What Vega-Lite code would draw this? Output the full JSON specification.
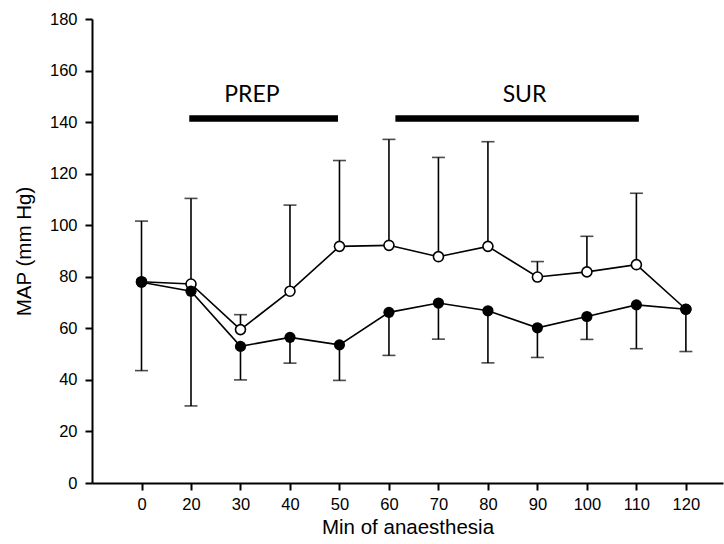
{
  "$schema": "https://vega.github.io/schema/vega-lite/v6.json",
  "width": 631,
  "height": 464,
  "autosize": {"type": "none"},
  "padding": {"left": 92, "top": 19, "right": 1, "bottom": 61},
  "background": "white",
  "config": {
    "view": {"stroke": null},
    "axis": {"grid": false, "domainColor": "black", "tickColor": "black", "labelColor": "black", "titleColor": "black", "labelFont": "Liberation Sans", "titleFont": "Liberation Sans", "titleFontWeight": "normal", "domainWidth": 2, "tickWidth": 2, "tickSize": 7, "labelFontSize": 16.5, "titleFontSize": 20.5}
  },
  "datasets": {
    "series": [
      {"min": 0, "group": "open", "map": 78.1, "bar": 101.6},
      {"min": 20, "group": "open", "map": 77.2, "bar": 110.4},
      {"min": 30, "group": "open", "map": 59.5, "bar": 65.3},
      {"min": 40, "group": "open", "map": 74.4, "bar": 107.8},
      {"min": 50, "group": "open", "map": 91.8, "bar": 125.1},
      {"min": 60, "group": "open", "map": 92.2, "bar": 133.3},
      {"min": 70, "group": "open", "map": 87.8, "bar": 126.3},
      {"min": 80, "group": "open", "map": 91.8, "bar": 132.4},
      {"min": 90, "group": "open", "map": 79.9, "bar": 85.9},
      {"min": 100, "group": "open", "map": 81.9, "bar": 95.7},
      {"min": 110, "group": "open", "map": 84.7, "bar": 112.4},
      {"min": 120, "group": "open", "map": 67.4, "bar": null},
      {"min": 0, "group": "filled", "map": 77.9, "bar": 43.6},
      {"min": 20, "group": "filled", "map": 74.4, "bar": 29.9},
      {"min": 30, "group": "filled", "map": 53.0, "bar": 40.0},
      {"min": 40, "group": "filled", "map": 56.5, "bar": 46.5},
      {"min": 50, "group": "filled", "map": 53.6, "bar": 39.8},
      {"min": 60, "group": "filled", "map": 66.2, "bar": 49.5},
      {"min": 70, "group": "filled", "map": 69.8, "bar": 55.8},
      {"min": 80, "group": "filled", "map": 66.8, "bar": 46.6},
      {"min": 90, "group": "filled", "map": 60.2, "bar": 48.7},
      {"min": 100, "group": "filled", "map": 64.6, "bar": 55.7},
      {"min": 110, "group": "filled", "map": 69.1, "bar": 52.1},
      {"min": 120, "group": "filled", "map": 67.4, "bar": 51.0}
    ],
    "phases": [
      {"label": "PREP", "start": 19.3, "end": 49.7, "mid": 32.3, "level": 141.4, "texty": 147.9},
      {"label": "SUR", "start": 61.3, "end": 110.5, "mid": 87.4, "level": 141.4, "texty": 147.9}
    ]
  },
  "encoding": {
    "x": {
      "field": "min", "type": "quantitative",
      "scale": {"domain": [-20, 20, 127.5], "range": [0, 99, 631], "nice": false, "zero": false},
      "axis": {"values": [0, 20, 30, 40, 50, 60, 70, 80, 90, 100, 110, 120], "title": "Min of anaesthesia", "labelPadding": 6, "titlePadding": 5, "labelFlush": false}
    },
    "y": {
      "field": "map", "type": "quantitative",
      "scale": {"domain": [0, 180], "nice": false},
      "axis": {"values": [0, 20, 40, 60, 80, 100, 120, 140, 160, 180], "title": "MAP (mm Hg)", "labelPadding": 8, "titlePadding": 15}
    }
  },
  "layer": [
    {
      "data": {"name": "series"},
      "transform": [{"filter": "datum.bar != null"}],
      "mark": {"type": "rule", "color": "black", "strokeWidth": 1.6},
      "encoding": {"y2": {"field": "bar"}}
    },
    {
      "data": {"name": "series"},
      "transform": [{"filter": "datum.bar != null"}],
      "mark": {"type": "tick", "color": "black", "orient": "horizontal", "size": 13, "thickness": 1.6},
      "encoding": {"y": {"field": "bar", "type": "quantitative"}}
    },
    {
      "data": {"name": "series"},
      "mark": {"type": "line", "color": "black", "strokeWidth": 1.6},
      "encoding": {"detail": {"field": "group"}}
    },
    {
      "data": {"name": "series"},
      "transform": [{"filter": "datum.group == 'open'"}],
      "mark": {"type": "point", "shape": "circle", "filled": true, "fill": "white", "stroke": "black", "strokeWidth": 1.6, "size": 100, "opacity": 1}
    },
    {
      "data": {"name": "series"},
      "transform": [{"filter": "datum.group == 'filled'"}],
      "mark": {"type": "point", "shape": "circle", "filled": true, "color": "black", "size": 125, "opacity": 1}
    },
    {
      "data": {"name": "phases"},
      "mark": {"type": "rule", "color": "black", "strokeWidth": 6.5, "strokeCap": "butt"},
      "encoding": {"x": {"field": "start", "type": "quantitative"}, "x2": {"field": "end"}, "y": {"field": "level", "type": "quantitative"}}
    },
    {
      "data": {"name": "phases"},
      "mark": {"type": "text", "font": "Lato", "fontSize": 23, "color": "black", "align": "center", "baseline": "alphabetic"},
      "encoding": {"x": {"field": "mid", "type": "quantitative"}, "y": {"field": "texty", "type": "quantitative"}, "text": {"field": "label"}}
    }
  ]
}
